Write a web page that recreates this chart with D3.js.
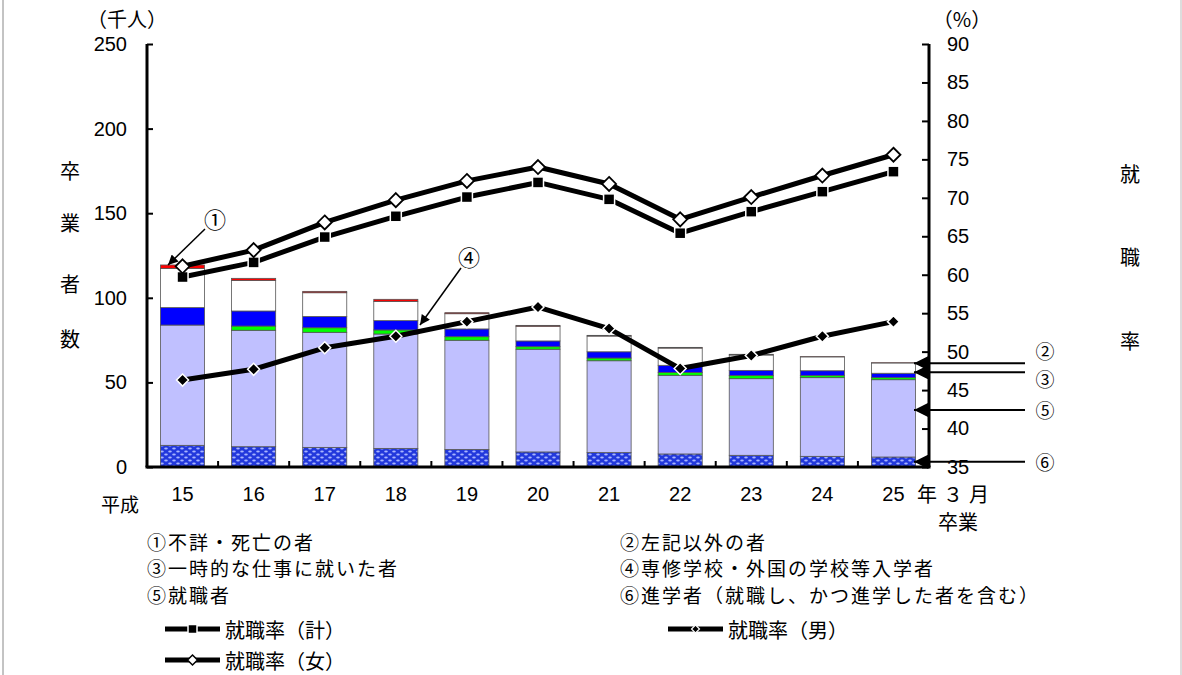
<!DOCTYPE html>
<html>
<head>
<meta charset="utf-8">
<script src="https://cdn.jsdelivr.net/npm/d3@7"></script>
<style>
body { margin: 0; background: #fff; }
text { font-family: "Noto Sans CJK JP", sans-serif; fill: #000; }
.axis text { font-family: "Liberation Sans", Arial, sans-serif; font-size: 20px; }
</style>
</head>
<body>
<div id="chart"></div>
<script>
// 卒業年（平成）
var years = ["15", "16", "17", "18", "19", "20", "21", "22", "23", "24", "25"];

// 卒業者数の内訳（千人）
var shingaku = [12.8, 12.0, 11.6, 11.0, 10.4, 8.9, 8.5, 7.7, 6.9, 6.3, 5.9];      // ⑥
var shushoku = [71.1, 68.8, 68.0, 67.6, 64.5, 60.7, 54.3, 46.5, 45.3, 46.5, 45.7]; // ⑤
var senshu   = [0.0, 2.5, 2.7, 2.4, 2.1, 1.5, 1.6, 1.7, 1.8, 1.2, 1.2];           // ④
var ichiji   = [10.3, 8.9, 6.7, 5.5, 4.6, 3.4, 3.7, 4.2, 3.1, 2.9, 2.6];          // ③
var sonota   = [23.2, 18.1, 14.0, 11.4, 9.0, 8.7, 9.3, 10.2, 9.1, 8.2, 6.1];      // ②
var fushou   = [2.0, 1.2, 0.8, 1.2, 0.6, 0.5, 0.4, 0.4, 0.4, 0.1, 0.1];           // ①

// 就職率（%）
var rateTotal  = [59.7, 61.6, 64.9, 67.6, 70.1, 72.0, 69.8, 65.4, 68.2, 70.8, 73.4];
var rateFemale = [61.1, 63.2, 66.8, 69.7, 72.2, 74.0, 71.8, 67.2, 70.1, 72.9, 75.6];
var rateMale   = [46.3, 47.7, 50.5, 52.0, 53.9, 55.8, 53.0, 47.8, 49.5, 52.0, 53.9];

var leftTicks = [0, 50, 100, 150, 200, 250];
var rightTicks = [35, 40, 45, 50, 55, 60, 65, 70, 75, 80, 85, 90];

var legendLeft = ["①不詳・死亡の者", "③一時的な仕事に就いた者", "⑤就職者"];
var legendRight = ["②左記以外の者", "④専修学校・外国の学校等入学者", "⑥進学者（就職し、かつ進学した者を含む）"];

// right-side callouts (value on left axis)
var callouts = [
  {label: "②", v: 61.3, dy: -13},
  {label: "③", v: 56.0, dy: 6},
  {label: "⑤", v: 33.7, dy: 0},
  {label: "⑥", v: 3.1, dy: 0}
];

var W = 1182, H = 675;
var pLeft = 147, pRight = 929, pTop = 44, pBottom = 467;

var svg = d3.select("#chart").append("svg")
  .attr("width", W).attr("height", H);

var defs = svg.append("defs");
var pat = defs.append("pattern").attr("id", "dots")
  .attr("patternUnits", "userSpaceOnUse")
  .attr("width", 8).attr("height", 6);
pat.append("rect").attr("width", 8).attr("height", 6).attr("fill", "#2238dc");
pat.append("ellipse").attr("cx", 2).attr("cy", 1.5).attr("rx", 1.8).attr("ry", 0.9).attr("fill", "#a8b4ff");
pat.append("ellipse").attr("cx", 6).attr("cy", 4.5).attr("rx", 1.8).attr("ry", 0.9).attr("fill", "#a8b4ff");

defs.append("marker").attr("id", "arrow")
  .attr("viewBox", "0 0 10 10").attr("refX", 10).attr("refY", 5)
  .attr("markerWidth", 12).attr("markerHeight", 10)
  .attr("markerUnits", "userSpaceOnUse")
  .attr("orient", "auto")
  .append("path").attr("d", "M0,0L10,5L0,10Z").attr("fill", "#000");
defs.append("marker").attr("id", "arrowBig")
  .attr("viewBox", "0 0 10 10").attr("refX", 10).attr("refY", 5)
  .attr("markerWidth", 16).attr("markerHeight", 14)
  .attr("markerUnits", "userSpaceOnUse")
  .attr("orient", "auto")
  .append("path").attr("d", "M0,0L10,5L0,10Z").attr("fill", "#000");

// frame lines
svg.append("line").attr("x1", 3).attr("x2", 3).attr("y1", 0).attr("y2", H).attr("stroke", "#888");
svg.append("line").attr("x1", W - 1).attr("x2", W - 1).attr("y1", 0).attr("y2", H).attr("stroke", "#bbb");

// scales
var x = d3.scaleBand().domain(years).range([pLeft, pRight])
  .paddingInner(0.38).paddingOuter(0.19);
var yL = d3.scaleLinear().domain([0, 250]).range([pBottom, pTop]);
var yR = d3.scaleLinear().domain([35, 90]).range([pBottom, pTop]);

// stacked bars
var keys = ["s6", "s5", "s4", "s3", "s2", "s1"];
var fills = {s6: "url(#dots)", s5: "#c0c0ff", s4: "#00ff00", s3: "#0000ff", s2: "#ffffff", s1: "#ff0000"};
var rows = years.map(function(y, i) {
  return {year: y, s6: shingaku[i], s5: shushoku[i], s4: senshu[i], s3: ichiji[i], s2: sonota[i], s1: fushou[i]};
});
var stacked = d3.stack().keys(keys)(rows);

svg.append("g").selectAll("g")
  .data(stacked)
  .enter().append("g")
    .attr("fill", function(d) { return fills[d.key]; })
  .selectAll("rect")
  .data(function(d) { return d; })
  .enter().append("rect")
    .attr("x", function(d) { return x(d.data.year); })
    .attr("y", function(d) { return yL(d[1]); })
    .attr("width", x.bandwidth())
    .attr("height", function(d) { return Math.max(0, yL(d[0]) - yL(d[1])); })
    .attr("stroke", "#555")
    .attr("stroke-width", 0.8);

// axes
var axL = svg.append("g").attr("class", "axis")
  .attr("transform", "translate(" + pLeft + ",0)")
  .call(d3.axisLeft(yL).tickValues(leftTicks).tickSize(-6).tickPadding(20));
var axR = svg.append("g").attr("class", "axis")
  .attr("transform", "translate(" + pRight + ",0)")
  .call(d3.axisRight(yR).tickValues(rightTicks).tickSize(-7).tickPadding(18));
var axB = svg.append("g").attr("class", "axis")
  .attr("transform", "translate(0," + pBottom + ")")
  .call(d3.axisBottom(x).tickSize(0).tickPadding(20));
[axL, axR, axB].forEach(function(a) {
  a.select(".domain").attr("stroke", "#000").attr("stroke-width", 3);
  a.selectAll(".tick line").attr("stroke", "#000").attr("stroke-width", 2);
});
axL.select(".domain").attr("d", "M0," + pTop + "V" + pBottom);
axR.select(".domain").attr("d", "M0," + pTop + "V" + pBottom);
axB.select(".domain").attr("d", "M" + (pLeft - 1.5) + ",0H" + (pRight + 1.5));

// category boundary ticks
svg.append("g").selectAll("line")
  .data(years.slice(1))
  .enter().append("line")
    .attr("x1", function(d) { return x(d) - x.step() * x.paddingInner() / 2; })
    .attr("x2", function(d) { return x(d) - x.step() * x.paddingInner() / 2; })
    .attr("y1", pBottom).attr("y2", pBottom - 6)
    .attr("stroke", "#000").attr("stroke-width", 2);

// lines
var cx = function(i) { return x(years[i]) + x.bandwidth() / 2; };
var line = d3.line()
  .x(function(d, i) { return cx(i); })
  .y(function(d) { return yR(d); });

[rateMale, rateTotal, rateFemale].forEach(function(s) {
  svg.append("path").datum(s)
    .attr("d", line)
    .attr("fill", "none")
    .attr("stroke", "#000")
    .attr("stroke-width", 5)
    .attr("stroke-linejoin", "round");
});

var diamond = function(r) { return "M0," + (-r) + "L" + r + ",0L0," + r + "L" + (-r) + ",0Z"; };

svg.append("g").selectAll("path")
  .data(rateMale).enter().append("path")
    .attr("transform", function(d, i) { return "translate(" + cx(i) + "," + yR(d) + ")"; })
    .attr("d", diamond(6))
    .attr("fill", "#000").attr("stroke", "#fff").attr("stroke-width", 1.5);

svg.append("g").selectAll("rect")
  .data(rateTotal).enter().append("rect")
    .attr("x", function(d, i) { return cx(i) - 5.5; })
    .attr("y", function(d) { return yR(d) - 5.5; })
    .attr("width", 11).attr("height", 11)
    .attr("fill", "#000").attr("stroke", "#fff").attr("stroke-width", 1.5);

svg.append("g").selectAll("path")
  .data(rateFemale).enter().append("path")
    .attr("transform", function(d, i) { return "translate(" + cx(i) + "," + yR(d) + ")"; })
    .attr("d", diamond(7))
    .attr("fill", "#fff").attr("stroke", "#000").attr("stroke-width", 1.8);

// annotations inside plot
svg.append("text").attr("x", 215).attr("y", 218).attr("text-anchor", "middle")
  .attr("dominant-baseline", "central").style("font-size", "22px").text("①");
svg.append("line").attr("x1", 205).attr("y1", 229).attr("x2", 168).attr("y2", 265)
  .attr("stroke", "#000").attr("stroke-width", 1.5).attr("marker-end", "url(#arrow)");
svg.append("text").attr("x", 469).attr("y", 256).attr("text-anchor", "middle")
  .attr("dominant-baseline", "central").style("font-size", "22px").text("④");
svg.append("line").attr("x1", 461).attr("y1", 268).attr("x2", 420).attr("y2", 325)
  .attr("stroke", "#000").attr("stroke-width", 1.5).attr("marker-end", "url(#arrow)");

// right callouts
var cg = svg.append("g").selectAll("g").data(callouts).enter().append("g");
cg.append("line")
  .attr("x1", 1025).attr("x2", 914)
  .attr("y1", function(d) { return yL(d.v); })
  .attr("y2", function(d) { return yL(d.v); })
  .attr("stroke", "#000").attr("stroke-width", 2)
  .attr("marker-end", "url(#arrowBig)");
cg.append("text")
  .attr("x", 1045)
  .attr("y", function(d) { return yL(d.v) + d.dy; })
  .attr("text-anchor", "middle").attr("dominant-baseline", "central")
  .style("font-size", "19px")
  .text(function(d) { return d.label; });

// axis titles
svg.append("text").attr("x", 127).attr("y", 18).attr("text-anchor", "middle")
  .attr("dominant-baseline", "central").style("font-size", "20px").text("（千人）");
svg.append("text").attr("x", 962).attr("y", 18).attr("text-anchor", "middle")
  .attr("dominant-baseline", "central").style("font-size", "20px").text("（%）");
svg.append("g").selectAll("text")
  .data([["卒", 170], ["業", 222], ["者", 283], ["数", 338]])
  .enter().append("text")
    .attr("x", 70).attr("y", function(d) { return d[1]; })
    .attr("text-anchor", "middle").attr("dominant-baseline", "central")
    .style("font-size", "20px").text(function(d) { return d[0]; });
svg.append("g").selectAll("text")
  .data([["就", 173], ["職", 256], ["率", 340]])
  .enter().append("text")
    .attr("x", 1130).attr("y", function(d) { return d[1]; })
    .attr("text-anchor", "middle").attr("dominant-baseline", "central")
    .style("font-size", "20px").text(function(d) { return d[0]; });

svg.append("text").attr("x", 120).attr("y", 503).attr("text-anchor", "middle")
  .attr("dominant-baseline", "central").style("font-size", "19px").text("平成");
svg.append("text").attr("x", 917).attr("y", 493)
  .attr("dominant-baseline", "central").style("font-size", "20px")
  .style("letter-spacing", "6px").text("年３月");
svg.append("text").attr("x", 958).attr("y", 521).attr("text-anchor", "middle")
  .attr("dominant-baseline", "central").style("font-size", "20px").text("卒業");

// legend
svg.append("g").selectAll("text").data(legendLeft).enter().append("text")
  .attr("x", 147).attr("y", function(d, i) { return 541 + i * 26.5; })
  .attr("dominant-baseline", "central").style("font-size", "19px")
  .style("letter-spacing", "2px")
  .text(function(d) { return d; });
svg.append("g").selectAll("text").data(legendRight).enter().append("text")
  .attr("x", 620).attr("y", function(d, i) { return 541 + i * 26.5; })
  .attr("dominant-baseline", "central").style("font-size", "19px")
  .style("letter-spacing", "2px")
  .text(function(d) { return d; });

var lineLegend = [
  {label: "就職率（計）", x: 165, y: 629, mark: "square"},
  {label: "就職率（女）", x: 165, y: 660, mark: "open"},
  {label: "就職率（男）", x: 668, y: 629, mark: "small"}
];
var lg = svg.append("g").selectAll("g").data(lineLegend).enter().append("g")
  .attr("transform", function(d) { return "translate(" + d.x + "," + d.y + ")"; });
lg.append("line").attr("x1", 0).attr("x2", 55).attr("y1", 0).attr("y2", 0)
  .attr("stroke", "#000").attr("stroke-width", 5);
lg.filter(function(d) { return d.mark === "square"; }).append("rect")
  .attr("x", 23).attr("y", -4.5).attr("width", 9).attr("height", 9)
  .attr("fill", "#000").attr("stroke", "#fff").attr("stroke-width", 1.5);
lg.filter(function(d) { return d.mark === "open"; }).append("path")
  .attr("transform", "translate(27.5,0)").attr("d", diamond(5))
  .attr("fill", "#fff").attr("stroke", "#000").attr("stroke-width", 1.5);
lg.filter(function(d) { return d.mark === "small"; }).append("path")
  .attr("transform", "translate(27.5,0)").attr("d", diamond(4))
  .attr("fill", "#000").attr("stroke", "#fff").attr("stroke-width", 1.2);
lg.append("text").attr("x", 60).attr("y", 0)
  .attr("dominant-baseline", "central").style("font-size", "20px")
  .text(function(d) { return d.label; });
</script>
</body>
</html>
